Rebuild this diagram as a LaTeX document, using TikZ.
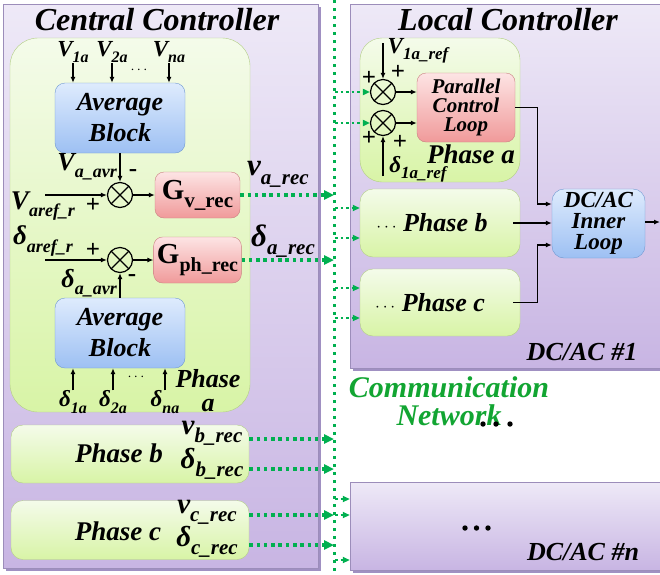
\documentclass[tikz,border=0pt]{standalone}
\usepackage{fontspec}
\setmainfont{Liberation Serif}
\usetikzlibrary{arrows.meta,positioning,calc,shadows}

\definecolor{panelline}{HTML}{9C8DBA}
\definecolor{paneltop}{HTML}{EEE9F7}
\definecolor{panelbot}{HTML}{C8B5E3}
\definecolor{panelshade}{HTML}{A090C2}
\definecolor{phaseline}{HTML}{B2CE84}
\definecolor{phasetop}{HTML}{F4FBEA}
\definecolor{phasebot}{HTML}{D8F4A6}
\definecolor{avgline}{HTML}{6E98D2}
\definecolor{avgtop}{HTML}{DEEBFD}
\definecolor{avgbot}{HTML}{9DC0F3}
\definecolor{gainline}{HTML}{C98080}
\definecolor{gaintop}{HTML}{FDE4E4}
\definecolor{gainbot}{HTML}{F09A9A}
\definecolor{netgreen}{HTML}{00B050}
\definecolor{commgreen}{HTML}{12A532}

\newcommand{\fsz}[1]{\fontsize{#1}{#1}\selectfont}
\newcommand{\sym}[4]{{\fsz{#3}#1\raisebox{-0.28em}{\fsz{#4}#2}}}

\tikzset{
  panel/.style={draw=panelline, top color=paneltop, bottom color=panelbot,
    drop shadow={shadow xshift=3pt, shadow yshift=-3pt, fill=panelshade, opacity=1}},
  phasebox/.style={draw=phaseline, top color=phasetop, bottom color=phasebot},
  avgbox/.style={draw=avgline, top color=avgtop, bottom color=avgbot, rounded corners=10pt,
    align=center},
  gainbox/.style={draw=gainline, top color=gaintop, bottom color=gainbot, rounded corners=9pt,
    align=center},
  sumnode/.style={circle, draw, line width=1.2pt, minimum size=25pt, inner sep=0pt,
    path picture={\draw[line width=1.2pt] (path picture bounding box.north west) -- (path picture bounding box.south east)
      (path picture bounding box.north east) -- (path picture bounding box.south west);}},
  lbl/.style={inner sep=0pt},
  sgn/.style={inner sep=0pt, font=\fsz{25}\bfseries\upshape},
  link/.style={-{Latex[length=6pt,width=5pt]}, line width=1.2pt},
  netline/.style={netgreen, line width=3pt, dash pattern=on 3pt off 5pt},
  netarrow/.style={netgreen, line width=3.3pt, dash pattern=on 3.5pt off 3.8pt,
    -{Triangle[length=10pt,width=9pt]}},
  lnetarrow/.style={netgreen, line width=2.2pt, dash pattern=on 2.5pt off 3pt,
    -{Triangle[length=7pt,width=6pt]}}
}

\begin{document}
\begin{tikzpicture}[x=1pt,y=-1pt,font=\bfseries\itshape]
\useasboundingbox (0,0) rectangle (660,574);

% communication network
\coordinate (nettop) at (334,0);
\coordinate (netbot) at (334,574);
\draw[netline] (nettop) -- (netbot);

% ---------------- central controller
\node[panel, minimum width=315pt, minimum height=564pt] (cc) at (160.5,286) {};
\node[lbl, font=\fsz{32}\bfseries\itshape] (cctitle) at (157,20) {Central Controller};

\node[phasebox, rounded corners=28pt, minimum width=240pt, minimum height=374pt] (pa) at (130,225) {};
\node[avgbox, minimum width=130pt, minimum height=70pt, font=\fontsize{26}{31}\selectfont\bfseries\itshape] (avg1) at (120,118) {Average\\Block};
\node[avgbox, minimum width=130pt, minimum height=70pt, font=\fontsize{26}{31}\selectfont\bfseries\itshape] (avg2) at (120,333) {Average\\Block};

\node[lbl] (v1) at (73,52) {\sym{V}{1a}{23}{16}};
\node[lbl] (v2) at (112,52) {\sym{V}{2a}{23}{16}};
\node[lbl] (vn) at (169,52) {\sym{V}{na}{23}{16}};
\node[lbl, font=\fsz{15}\bfseries] (vdots) at (139,70) {$\cdots$};
\foreach \n in {v1,v2,vn}
  \draw[link] (\n.south) -- (\n.south |- avg1.north);

\node[lbl] (d1) at (73,402) {\sym{δ}{1a}{23}{16}};
\node[lbl] (d2) at (113,402) {\sym{δ}{2a}{23}{16}};
\node[lbl] (dn) at (165,402) {\sym{δ}{na}{23}{16}};
\node[lbl, font=\fsz{15}\bfseries] (ddots) at (136,377) {$\cdots$};
\foreach \n in {d1,d2,dn}
  \draw[link] (\n.north) -- (\n.north |- avg2.south);
\node[lbl, align=center, font=\fontsize{26}{24}\selectfont\bfseries\itshape] (phalbl) at (208,391) {Phase\\a};

\node[sumnode] (s1) at (120,195) {};
\node[sumnode] (s2) at (120,260) {};
\node[gainbox, minimum width=85pt, minimum height=46pt] (gv) at (197.5,195) {\sym{\upshape G}{v\_rec}{29}{21}};
\node[gainbox, minimum width=85pt, minimum height=46pt] (gph) at (197.5,260) {\sym{\upshape G}{ph\_rec}{29}{20}};

\node[lbl, anchor=east] (vavr) at (117,167) {\sym{V}{a\_avr}{26}{18}};
\node[lbl, anchor=east] (davr) at (117,283) {\sym{δ}{a\_avr}{26}{18}};
\node[lbl] (vref) at (43,206) {\sym{V}{aref\_r}{27}{18}};
\node[lbl] (dref) at (43,241) {\sym{δ}{aref\_r}{27}{18}};
\coordinate (vin) at (45,195);
\coordinate (din) at (45,260);
\node[sgn] (sgn1) at (93,205) {+};
\node[sgn] (sgn2) at (133,173) {-};
\node[sgn] (sgn3) at (93,250) {+};
\node[sgn] (sgn4) at (132,278) {-};

\draw[link] (avg1) -- (s1);
\draw[link] (avg2) -- (s2);
\draw[link] (vin) -- (s1);
\draw[link] (din) -- (s2);
\draw[link] (s1) -- (gv);
\draw[link] (s2) -- (gph);

\node[lbl] (varec) at (278,174) {\sym{v}{a\_rec}{31}{21}};
\node[lbl] (darec) at (283,241) {\sym{δ}{a\_rec}{31}{21}};

\node[phasebox, rounded corners=12pt, minimum width=238pt, minimum height=58pt] (pb) at (130,454) {};
\node[lbl, font=\fsz{27}\bfseries\itshape] (pblbl) at (119,453) {Phase b};
\node[lbl] (vbrec) at (212,433) {\sym{v}{b\_rec}{29}{21}};
\node[lbl] (dbrec) at (212,464) {\sym{δ}{b\_rec}{29}{21}};

\node[phasebox, rounded corners=12pt, minimum width=238pt, minimum height=59pt] (pc) at (130,530) {};
\node[lbl, font=\fsz{27}\bfseries\itshape] (pclbl) at (118,531) {Phase c};
\node[lbl] (vcrec) at (207,512) {\sym{v}{c\_rec}{29}{21}};
\node[lbl] (dcrec) at (207,542) {\sym{δ}{c\_rec}{29}{21}};

% central -> network
\coordinate (na) at (334,195);
\coordinate (nb) at (334,260);
\coordinate (nc) at (334,439);
\coordinate (nd) at (334,469);
\coordinate (ne) at (334,515);
\coordinate (nf) at (334,545);
\draw[netarrow] (gv) -- (na);
\draw[netarrow] (gph) -- (nb);
\draw[netarrow] (pb.east |- nc) -- (nc);
\draw[netarrow] (pb.east |- nd) -- (nd);
\draw[netarrow] (pc.east |- ne) -- (ne);
\draw[netarrow] (pc.east |- nf) -- (nf);

% ---------------- local controller
\node[panel, minimum width=320pt, minimum height=364pt] (lc) at (510,186) {};
\node[lbl, font=\fsz{32}\bfseries\itshape] (lctitle) at (508,20) {Local Controller};

\node[phasebox, rounded corners=22pt, minimum width=160pt, minimum height=144pt] (lpa) at (440,110) {};
\node[sumnode] (ls1) at (383,92) {};
\node[sumnode] (ls2) at (383,123) {};
\node[gainbox, minimum width=98pt, minimum height=69pt, font=\fontsize{21}{19}\selectfont\bfseries\itshape] (pcl) at (466,107.5) {Parallel\\Control\\Loop};
\node[lbl] (varef) at (418,51) {\sym{V}{1a\_ref}{23}{17}};
\node[lbl] (daref) at (418,169) {\sym{δ}{1a\_ref}{23}{17}};
\coordinate (vtop) at (383,43);
\coordinate (dbot) at (383,176);
\draw[link] (vtop) -- (ls1);
\draw[link] (dbot) -- (ls2);
\draw[link] (ls1) -- (ls1 -| pcl.west);
\draw[link] (ls2) -- (ls2 -| pcl.west);
\node[sgn] (lsg1) at (398,72) {+};
\node[sgn] (lsg2) at (369,78) {+};
\node[sgn] (lsg3) at (369,138) {+};
\node[sgn] (lsg4) at (400,142) {+};
\node[lbl, font=\fsz{27}\bfseries\itshape] (lpalbl) at (471,154) {Phase a};

\node[phasebox, rounded corners=13pt, minimum width=160pt, minimum height=68pt] (lpb) at (440,223) {};
\node[lbl, font=\fsz{26}\bfseries\itshape] (lpblbl) at (432,223) {{\normalfont\fsz{18}$\cdots$} Phase b};
\node[phasebox, rounded corners=13pt, minimum width=160pt, minimum height=67pt] (lpc) at (440,302.5) {};
\node[lbl, font=\fsz{26}\bfseries\itshape] (lpclbl) at (430,303) {{\normalfont\fsz{18}$\cdots$} Phase c};

\node[avgbox, minimum width=93pt, minimum height=69pt, rounded corners=12pt, font=\fontsize{23}{21}\selectfont\bfseries\itshape] (inner) at (598.5,223.5) {DC/AC\\Inner\\Loop};
\coordinate (out) at (660,222);
\draw[link] (pcl.east) -- ++(22,0) |- ([yshift=19.5pt]inner.west);
\draw[link] ([xshift=-7pt]lpb.east) -- (lpb.east -| inner.west);
\draw[link] ([xshift=-7pt]lpc.east) -- ++(24,0) |- ([yshift=-21.5pt]inner.west);
\draw[link] (inner.east |- out) -- (out);
\node[lbl, font=\fsz{26}\bfseries\itshape] (dc1) at (582,352) {DC/AC \#1};

% network -> local
\coordinate (la) at (335,92);
\coordinate (lb) at (335,123);
\draw[lnetarrow] (la) -- (ls1);
\draw[lnetarrow] (lb) -- (ls2);
\foreach \y/\t in {208/lpb,238/lpb,288/lpc,318/lpc}
  \draw[lnetarrow] (335,\y) -- (\t.west |- 0,\y);

% communication network label
\node[lbl, align=center, text=commgreen, font=\fontsize{30}{28}\selectfont\bfseries\itshape] (comm) at (449,401) {Communication\\Network};
\foreach \x in {483,496,510}
  \fill (\x,424) circle (2.7pt);

% ---------------- DC/AC #n
\node[panel, minimum width=320pt, minimum height=88pt] (lcn) at (510,526) {};
\foreach \x in {465,476.5,488}
  \fill (\x,528) circle (2.7pt);
\node[lbl, font=\fsz{26}\bfseries\itshape] (dcn) at (583,552) {DC/AC \#n};
\foreach \y in {499,515,560}
  \draw[lnetarrow] (335,\y) -- (lcn.west |- 0,\y);
\end{tikzpicture}
\end{document}
